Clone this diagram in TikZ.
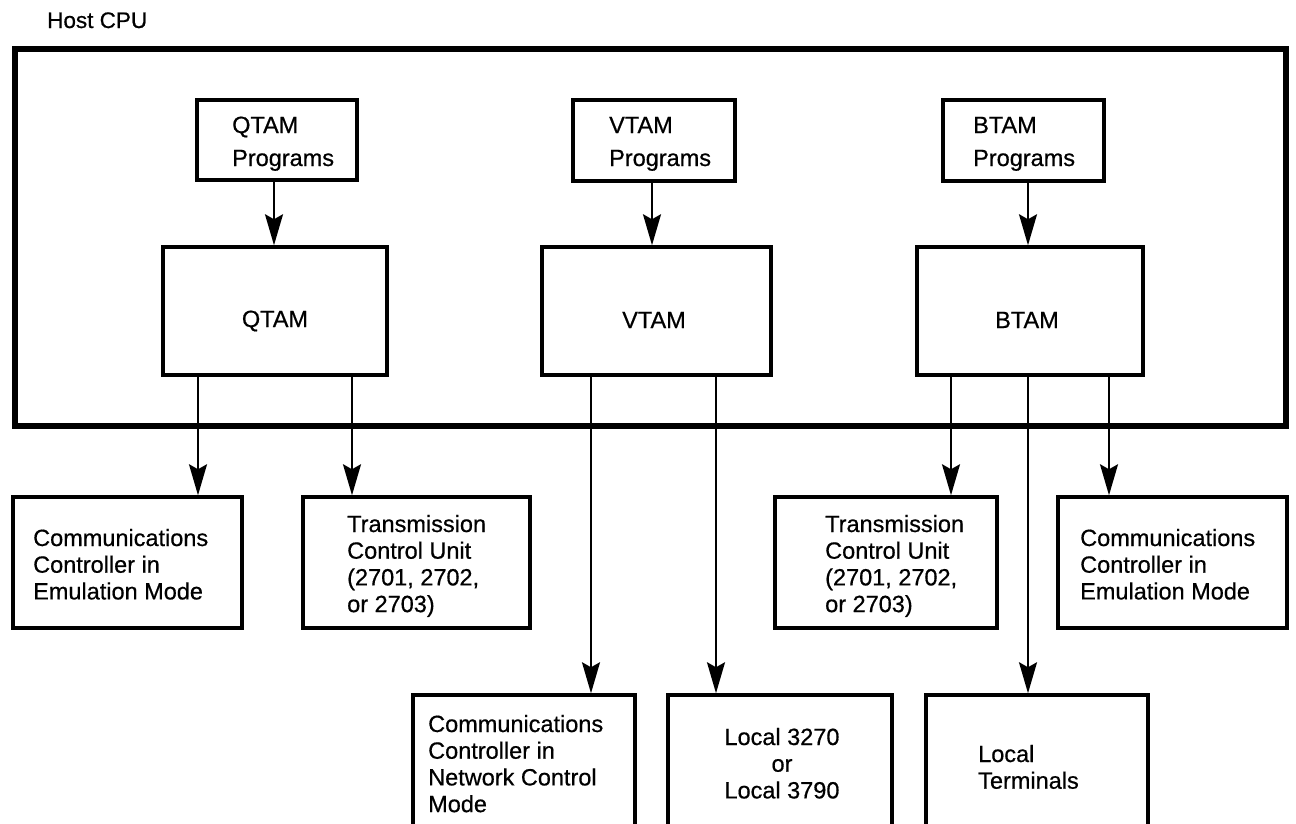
\documentclass[tikz,border=0pt]{standalone}
\usepackage{fontspec}
\setmainfont{Liberation Sans}[UprightFeatures={FakeBold=0.6}]
\usetikzlibrary{arrows.meta}
\newcommand\txtl[1]{\begin{tabular}[t]{@{}l@{}}#1\end{tabular}}
\newcommand\txtc[1]{\begin{tabular}[t]{@{}c@{}}#1\end{tabular}}
\begin{document}
\begin{tikzpicture}[x=1pt,y=-1pt,
  box/.style={draw, line width=3.5pt, inner sep=0pt},
  hostbox/.style={draw, line width=6pt, inner sep=0pt},
  lbl/.style={inner sep=0pt, anchor=base west, font=\fontsize{23.5pt}{26.7pt}\selectfont},
  clbl/.style={inner sep=0pt, anchor=base, font=\fontsize{23.5pt}{26.7pt}\selectfont},
  plbl/.style={inner sep=0pt, anchor=base west, font=\fontsize{23.5pt}{33pt}\selectfont},
  arr/.style={line width=2pt, -{Stealth[length=31pt,width=18pt,inset=5pt]}}
]
\useasboundingbox (0,0) rectangle (1296,823);
\clip (0,0) rectangle (1296,823);

% host
\node[inner sep=0pt, anchor=base west, font=\fontsize{22.5pt}{26pt}\selectfont] (hostlbl) at (47,28) {Host CPU};
\node[hostbox, minimum width=1271pt, minimum height=377pt] (host) at (650.5,237.5) {};

% program boxes
\node[box, minimum width=160pt, minimum height=80pt] (qprog) at (277,140) {};
\node[plbl] (qprogt) at (232,133) {\txtl{QTAM\\Programs}};
\node[box, minimum width=162pt, minimum height=81pt] (vprog) at (654,140.5) {};
\node[plbl] (vprogt) at (609,133) {\txtl{VTAM\\Programs}};
\node[box, minimum width=161pt, minimum height=81pt] (bprog) at (1023.5,140.5) {};
\node[plbl] (bprogt) at (973,133) {\txtl{BTAM\\Programs}};

% access methods
\node[box, minimum width=224pt, minimum height=128pt] (qtam) at (275,311) {};
\node[clbl] (qtamt) at (275,327) {QTAM};
\node[box, minimum width=229pt, minimum height=128pt] (vtam) at (656.5,311) {};
\node[clbl] (vtamt) at (654,328) {VTAM};
\node[box, minimum width=226pt, minimum height=128pt] (btam) at (1030,311) {};
\node[clbl] (btamt) at (1027,328) {BTAM};

% row 1
\node[box, minimum width=229pt, minimum height=131pt] (ccl) at (127.5,562.5) {};
\node[lbl] (cclt) at (33,546) {\txtl{Communications\\Controller in\\Emulation Mode}};
\node[box, minimum width=227pt, minimum height=131pt] (tcul) at (416.5,562.5) {};
\node[lbl] (tcult) at (347,532) {\txtl{Transmission\\Control Unit\\(2701, 2702,\\or 2703)}};
\node[box, minimum width=222pt, minimum height=131pt] (tcur) at (886,562.5) {};
\node[lbl] (tcurt) at (825,532) {\txtl{Transmission\\Control Unit\\(2701, 2702,\\or 2703)}};
\node[box, minimum width=229pt, minimum height=131pt] (ccr) at (1172.5,562.5) {};
\node[lbl] (ccrt) at (1080,546) {\txtl{Communications\\Controller in\\Emulation Mode}};

% row 2
\node[box, minimum width=222pt, minimum height=160pt] (ccn) at (524,775) {};
\node[lbl] (ccnt) at (428,732) {\txtl{Communications\\Controller in\\Network Control\\Mode}};
\node[box, minimum width=224pt, minimum height=160pt] (loc) at (780,775) {};
\node[clbl] (loct) at (782,745) {\txtc{Local 3270\\or\\Local 3790}};
\node[box, minimum width=222pt, minimum height=160pt] (lt) at (1037,775) {};
\node[lbl] (ltt) at (978,762) {\txtl{Local\\Terminals}};

% x positions of connectors
\coordinate (xq) at (274,0);
\coordinate (xv) at (652,0);
\coordinate (xb) at (1028,0);
\coordinate (xq1) at (198,0);
\coordinate (xq2) at (352,0);
\coordinate (xv1) at (591,0);
\coordinate (xv2) at (716,0);
\coordinate (xb1) at (951,0);
\coordinate (xb3) at (1109,0);

% connectors
\draw[arr] (qprog.south -| xq) -- (qtam.north -| xq);
\draw[arr] (vprog.south -| xv) -- (vtam.north -| xv);
\draw[arr] (bprog.south -| xb) -- (btam.north -| xb);
\draw[arr] (qtam.south -| xq1) -- (ccl.north -| xq1);
\draw[arr] (qtam.south -| xq2) -- (tcul.north -| xq2);
\draw[arr] (vtam.south -| xv1) -- (ccn.north -| xv1);
\draw[arr] (vtam.south -| xv2) -- (loc.north -| xv2);
\draw[arr] (btam.south -| xb1) -- (tcur.north -| xb1);
\draw[arr] (btam.south -| xb) -- (lt.north -| xb);
\draw[arr] (btam.south -| xb3) -- (ccr.north -| xb3);
\end{tikzpicture}
\end{document}
